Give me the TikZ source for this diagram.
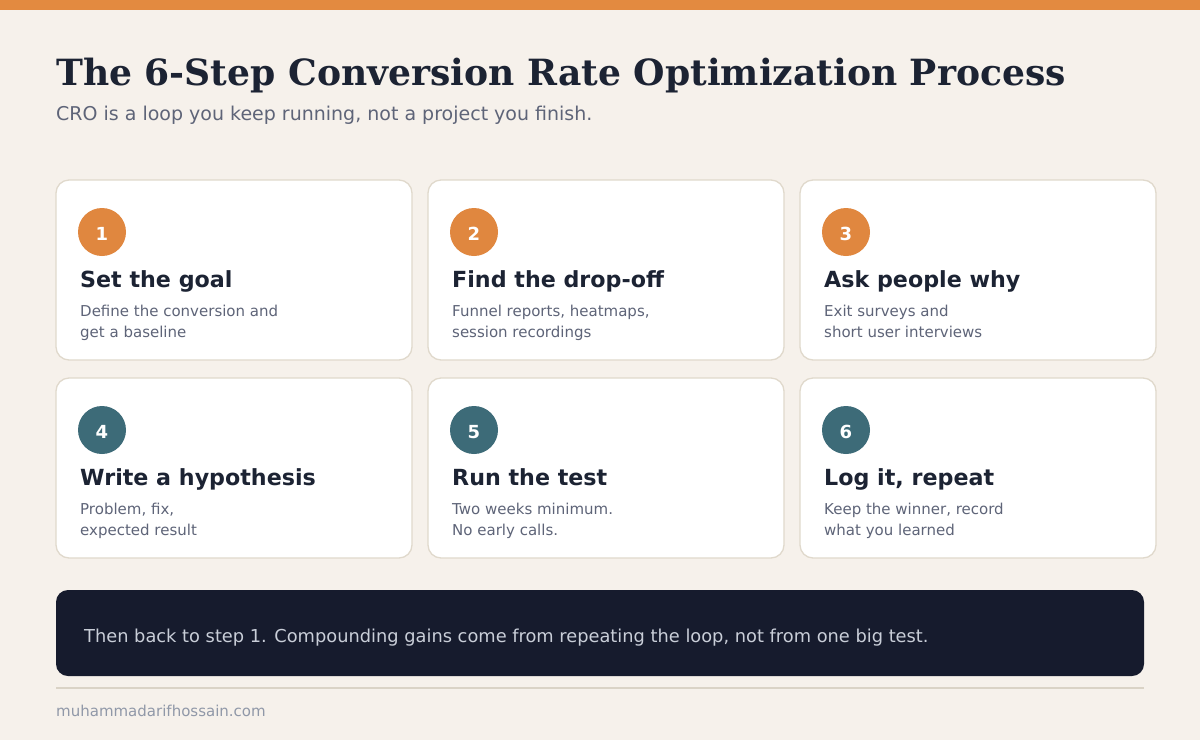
\documentclass[tikz,border=0pt]{standalone}
\usepackage{fontspec}
\usetikzlibrary{calc}
\setmainfont{DejaVu Sans}
\newfontfamily\serifbold{DejaVu Serif}
\definecolor{bg}{HTML}{F6F1EB}
\definecolor{topbar}{HTML}{E38A40}
\definecolor{ink}{HTML}{1C2333}
\definecolor{subink}{HTML}{5E6478}
\definecolor{cardborder}{HTML}{E0D9CC}
\definecolor{orangec}{HTML}{E0873F}
\definecolor{tealc}{HTML}{3D6B78}
\definecolor{darkbox}{HTML}{161B2D}
\definecolor{boxtext}{HTML}{C9CED8}
\definecolor{rulec}{HTML}{DAD3C6}
\definecolor{footc}{HTML}{9098A8}
\tikzset{
  card/.style={draw=cardborder, line width=1.3pt, fill=white, rounded corners=13pt},
  numdot/.style={circle, minimum size=48pt, inner sep=0pt, fill=#1},
  numtext/.style={anchor=base, inner sep=0pt, text=white, font=\fontsize{18}{18}\selectfont\bfseries},
  heading/.style={anchor=base west, inner sep=0pt, text=ink, font=\fontsize{22.2}{24}\selectfont\bfseries},
  desc/.style={anchor=base west, inner sep=0pt, text=subink, font=\fontsize{15}{18}\selectfont},
}
\begin{document}
\begin{tikzpicture}[x=1pt,y=-1pt]
\fill[bg] (0,0) rectangle (1200,740);
\useasboundingbox (0,0) rectangle (1200,740);
\fill[topbar] (0,0) rectangle (1200,10);
\node[anchor=base west, inner sep=0pt, text=ink, font=\serifbold\fontsize{36.1}{40}\selectfont\bfseries] (title) at (56,85) {The 6-Step Conversion Rate Optimization Process};
\node[anchor=base west, inner sep=0pt, text=subink, font=\fontsize{19}{22}\selectfont] (subtitle) at (56,120) {CRO is a loop you keep running, not a project you finish.};
% cards
\foreach \i/\cx/\cy/\col/\head/\dA/\dB in {
 1/56/180/orangec/Set the goal/Define the conversion and/get a baseline,
 2/428/180/orangec/Find the drop-off/{Funnel reports, heatmaps,}/session recordings,
 3/800/180/orangec/Ask people why/Exit surveys and/short user interviews,
 4/56/378/tealc/Write a hypothesis/{Problem, fix,}/expected result,
 5/428/378/tealc/Run the test/Two weeks minimum./No early calls.,
 6/800/378/tealc/{Log it, repeat}/{Keep the winner, record}/what you learned}{
  \draw[card] (\cx,\cy) rectangle ++(356,180);
  \node[numdot=\col] (n\i) at ($(\cx,\cy)+(46,52)$) {};
  \node[numtext] (nt\i) at ($(\cx,\cy)+(46,60.5)$) {\i};
  \node[heading] (h\i) at ($(\cx,\cy)+(24,107)$) {\head};
  \node[desc] (da\i) at ($(\cx,\cy)+(24,136)$) {\dA};
  \node[desc] (db\i) at ($(\cx,\cy)+(24,157)$) {\dB};
}
\fill[darkbox, rounded corners=12pt] (56,590) rectangle (1144,676);
\node[anchor=base west, inner sep=0pt, text=boxtext, font=\fontsize{17.8}{20}\selectfont] (note) at (84,642) {Then back to step 1. Compounding gains come from repeating the loop, not from one big test.};
\draw[rulec, line width=1.5pt] (56,688) -- (1144,688);
\node[anchor=base west, inner sep=0pt, text=footc, font=\fontsize{15}{16}\selectfont] (foot) at (56,716) {muhammadarifhossain.com};
\end{tikzpicture}
\end{document}
